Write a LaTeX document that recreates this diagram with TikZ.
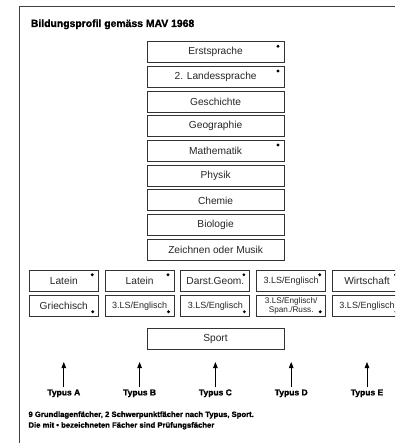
\documentclass[tikz,border=0pt]{standalone}
\usepackage{fontspec}
\setmainfont{Liberation Sans}
\newfontfamily\heavyfont[FakeBold=1.3]{Liberation Sans Bold}
\usetikzlibrary{arrows.meta}
\begin{document}
\begin{tikzpicture}[x=1pt,y=-1pt,
  subj/.style={draw=black!80, line width=0.9pt, minimum width=137pt, minimum height=21pt, inner sep=0pt, font=\fontsize{10.2}{12}\selectfont, text=black!85},
  tbox/.style={subj, minimum width=69pt},
  smalltxt/.style={font=\fontsize{9}{10}\selectfont},
  tinytxt/.style={font=\fontsize{8.2}{9}\selectfont, align=center},
  pdot/.style={fill=black},
  typ/.style={font=\heavyfont\fontsize{8.5}{10}\selectfont, inner sep=2pt},
  arr/.style={-{Triangle[width=4.5pt,length=6pt]}, line width=0.9pt},
  frame/.style={line width=1pt, draw=black!75},
  title/.style={font=\heavyfont\fontsize{10.4}{12}\selectfont, anchor=west, inner sep=0pt},
  note/.style={font=\heavyfont\fontsize{7.7}{9}\selectfont, anchor=west, inner sep=0pt}
]
\useasboundingbox (0,0) rectangle (395,443);
\clip (0,0) rectangle (395,443);
\fill[white] (0,0) rectangle (395,443);
\draw[frame] (19,443) -- (19,6.5) -- (395,6.5);

\node[title] (ttl) at (30.7,24.3) {Bildungsprofil gemäss MAV 1968};

% central column
\foreach \i/\t in {1/Erstsprache,2/2. Landessprache,3/Geschichte,4/Geographie,5/Mathematik,6/Physik,7/Chemie,8/Biologie,9/Zeichnen oder Musik}{
  \node[subj] (c\i) at (215.6,{52.2+(\i-1)*24.7}) {\t};
}
\foreach \i in {1,2,5}{
  \fill[pdot] (c\i.north east) ++(-6.6,5) circle (1.6pt);
}

% type boxes
\def\cA{63.8}\def\cB{139.6}\def\cC{215.4}\def\cD{291.2}\def\cE{367}
\node[tbox] (a1) at (\cA,281.2) {Latein};
\node[tbox] (a2) at (\cB,281.2) {Latein};
\node[tbox] (a3) at (\cC,281.2) {Darst.Geom.};
\node[tbox,smalltxt] (a4) at (\cD,281.2) {3.LS/Englisch};
\node[tbox] (a5) at (\cE,281.2) {Wirtschaft};
\node[tbox] (b1) at (\cA,305.8) {Griechisch};
\node[tbox,smalltxt] (b2) at (\cB,305.8) {3.LS/Englisch};
\node[tbox,smalltxt] (b3) at (\cC,305.8) {3.LS/Englisch};
\node[tbox,tinytxt] (b4) at (\cD,305.8) {3.LS/Englisch/\\Span./Russ.};
\node[tbox,smalltxt] (b5) at (\cE,305.8) {3.LS/Englisch};
\foreach \n in {a1,a2,a3,a4,a5}{
  \fill[pdot] (\n.north east) ++(-6.5,4.5) circle (1.6pt);
}
\foreach \n in {b1,b2,b3,b4,b5}{
  \fill[pdot] (\n.south east) ++(-6,-5) circle (1.6pt);
}

\node[subj] (sp) at (215.5,338.5) {Sport};

% Typus labels and arrows
\foreach \k/\x/\l in {1/\cA/A,2/\cB/B,3/\cC/C,4/\cD/D,5/\cE/E}{
  \node[typ] (t\k) at (\x,393.3) {Typus \l};
  \coordinate (h\k) at (\x,362);
  \draw[arr] (t\k.north) -- (h\k);
}

\node[note] (n1) at (28.3,415) {9 Grundlagenfächer, 2 Schwerpunktfächer nach Typus, Sport.};
\node[note] (n2) at (28.3,425.7) {Die mit • bezeichneten Fächer sind Prüfungsfächer};
\end{tikzpicture}
\end{document}
